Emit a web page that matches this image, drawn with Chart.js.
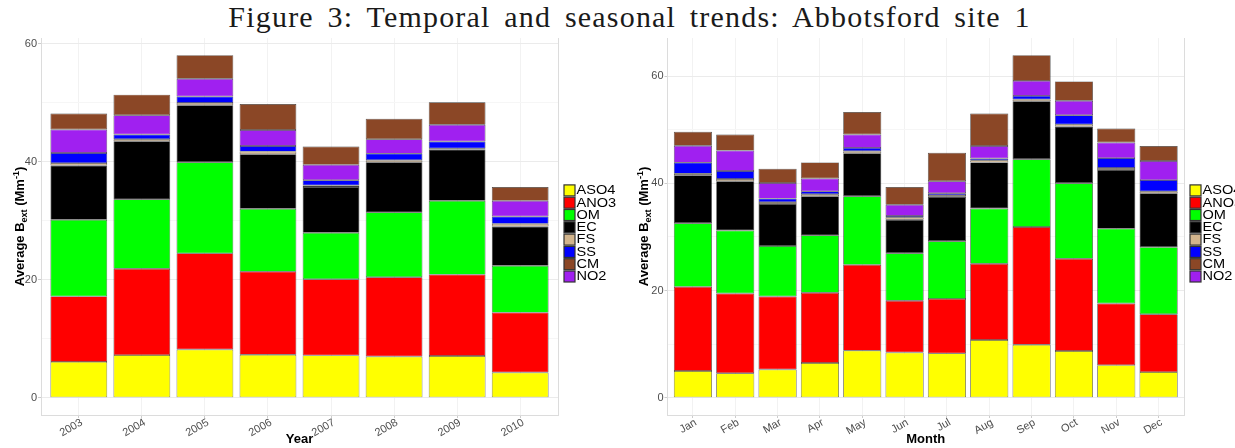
<!DOCTYPE html>
<html lang="en">
<head>
<meta charset="UTF-8">
<title>Figure 3: Temporal and seasonal trends</title>
<script src="https://cdn.jsdelivr.net/npm/chart.js"></script>
<style>
  html, body { margin: 0; padding: 0; background: #fff; }
  body { width: 1235px; height: 448px; position: relative; overflow: hidden; }
  #title { position: absolute; left: 12px; top: 0px; width: 1235px; text-align: center;
           font-family: "Liberation Serif", serif; font-size: 30px; color: #1a1a1a;
           letter-spacing: 1.2px; word-spacing: 5px; }
  .panel { position: absolute; top: 0; height: 448px; }
</style>
</head>
<body>
<div id="title">Figure 3: Temporal and seasonal trends: Abbotsford site 1</div>
<div class="panel" style="left:0;width:618px"><canvas id="yearChart" width="618" height="448"></canvas></div>
<div class="panel" style="left:618px;width:617px"><canvas id="monthChart" width="617" height="448"></canvas></div>

<script>
// stacking order, bottom to top
const components = ['ASO4', 'ANO3', 'OM', 'EC', 'FS', 'SS', 'NO2', 'CM'];
// order shown in the legend
const legendOrder = ['ASO4', 'ANO3', 'OM', 'EC', 'FS', 'SS', 'CM', 'NO2'];
const colours = {
    ASO4: '#ffff00', ANO3: '#ff0000', OM: '#00ff00', EC: '#000000',
    FS: '#d2b48c', SS: '#0000ff', CM: '#8b4726', NO2: '#a020f0'
};

const years = ['2003', '2004', '2005', '2006', '2007', '2008', '2009', '2010'];
const yearASO4 = [6.1, 7.25, 8.2, 7.3, 7.2, 7.0, 7.1, 4.3];
const yearANO3 = [11.1, 14.65, 16.3, 14.1, 12.9, 13.45, 13.8, 10.15];
const yearOM   = [13.0, 11.75, 15.45, 10.65, 7.9, 11.0, 12.5, 7.95];
const yearEC   = [9.2, 9.85, 9.65, 9.25, 7.75, 8.5, 8.7, 6.65];
const yearFS   = [0.4, 0.35, 0.4, 0.45, 0.25, 0.35, 0.2, 0.45];
const yearSS   = [1.7, 0.8, 1.1, 0.95, 0.9, 1.1, 1.15, 1.25];
const yearNO2  = [4.0, 3.25, 3.0, 2.7, 2.6, 2.45, 2.85, 2.65];
const yearCM   = [2.7, 3.5, 4.0, 4.4, 3.1, 3.45, 3.8, 2.35];

const months = ['Jan', 'Feb', 'Mar', 'Apr', 'May', 'Jun', 'Jul', 'Aug', 'Sep', 'Oct', 'Nov', 'Dec'];
const monthASO4 = [5.0, 4.6, 5.3, 6.5, 8.8, 8.45, 8.3, 10.8, 9.9, 8.75, 6.1, 4.8];
const monthANO3 = [15.7, 14.85, 13.6, 13.1, 16.0, 9.65, 10.15, 14.2, 21.95, 17.2, 11.5, 10.8];
const monthOM   = [11.85, 11.75, 9.4, 10.7, 12.8, 8.85, 10.75, 10.3, 12.65, 14.05, 13.95, 12.5];
const monthEC   = [8.95, 9.2, 7.85, 7.3, 8.0, 6.25, 8.3, 8.6, 10.8, 10.6, 10.95, 10.05];
const monthFS   = [0.3, 0.4, 0.35, 0.35, 0.4, 0.4, 0.3, 0.4, 0.35, 0.4, 0.35, 0.35];
const monthSS   = [2.05, 1.5, 0.65, 0.55, 0.6, 0.3, 0.35, 0.35, 0.65, 1.7, 1.85, 2.1];
const monthNO2  = [3.15, 3.8, 2.9, 2.4, 2.5, 2.1, 2.25, 2.3, 2.8, 2.7, 2.9, 3.55];
const monthCM   = [2.6, 3.0, 2.65, 3.0, 4.2, 3.3, 5.3, 6.05, 4.8, 3.6, 2.6, 2.8];

const yTicks = [0, 10, 20, 30, 40, 50, 60];
const sans = 'Liberation Sans, Arial, sans-serif';

function drawYTitle(ctx, cx, cy) {
    const big = 'bold 13px ' + sans, small = 'bold 9px ' + sans;
    const parts = [
        ['Average B', big, 0], ['ext', small, 3], [' (Mm', big, 0], ['-1', small, -5], [')', big, 0]
    ];
    let total = 0;
    parts.forEach(p => { ctx.font = p[1]; total += ctx.measureText(p[0]).width; });
    ctx.save();
    ctx.translate(cx, cy);
    ctx.rotate(-Math.PI / 2);
    ctx.fillStyle = '#000';
    ctx.textBaseline = 'alphabetic';
    let x = -total / 2;
    parts.forEach(p => {
        ctx.font = p[1];
        ctx.fillText(p[0], x, 4.5 + p[2]);
        x += ctx.measureText(p[0]).width;
    });
    ctx.restore();
}

const decor = {
    id: 'decor',
    beforeDatasetsDraw(chart) {
        const a = chart.chartArea, ctx = chart.ctx;
        ctx.save();
        ctx.strokeStyle = '#dcdcdc';
        ctx.lineWidth = 1;
        ctx.beginPath();
        ctx.moveTo(a.right + 0.5, a.top);
        ctx.lineTo(a.right + 0.5, a.bottom);
        ctx.stroke();
        ctx.restore();
    },
    afterDraw(chart) {
        const a = chart.chartArea, ctx = chart.ctx;
        drawYTitle(ctx, chart.options.yTitleX, (a.top + a.bottom) / 2);
        // legend
        const step = 12.3;
        const x0 = a.right + 6;
        let y = (a.top + a.bottom) / 2 + 7 - step * legendOrder.length / 2;
        ctx.save();
        legendOrder.forEach(name => {
            ctx.fillStyle = colours[name];
            ctx.fillRect(x0, y + 0.6, 11, 11);
            ctx.strokeStyle = '#333';
            ctx.lineWidth = 1.2;
            ctx.strokeRect(x0, y + 0.6, 11, 11);
            ctx.save();
            ctx.translate(x0 + 12.5, y + 6.4);
            ctx.scale(1.12, 1);
            ctx.font = '13px ' + sans;
            ctx.fillStyle = '#000';
            ctx.textBaseline = 'middle';
            ctx.fillText(name, 0, 0);
            ctx.restore();
            y += step;
        });
        ctx.restore();
    }
};

function makeChart(id, labels, series, xTitle, axisWidth, padRight, yTitleX) {
    const totals = labels.map((_, i) => series.reduce((s, arr) => s + arr[i], 0));
    const top = Math.max(...totals);
    const expand = top * 0.05;
    return new Chart(document.getElementById(id), {
        type: 'bar',
        data: {
            datasets: components.map((name, k) => ({
                label: name,
                data: series[k].map((v, i) => ({ x: i, y: v })),
                backgroundColor: colours[name],
                borderColor: 'rgba(40,40,40,0.9)',
                borderWidth: 0.7,
                borderSkipped: false,
                barPercentage: 0.9,
                categoryPercentage: 1
            }))
        },
        options: {
            responsive: false,
            animation: false,
            devicePixelRatio: 1,
            yTitleX: yTitleX,
            layout: { padding: { top: 38, right: padRight, left: 0, bottom: 0 } },
            plugins: { legend: { display: false }, tooltip: { enabled: false } },
            scales: {
                x: {
                    type: 'linear', stacked: true, offset: false,
                    min: -0.6, max: labels.length - 1 + 0.6,
                    afterBuildTicks: s => { s.ticks = labels.map((_, i) => ({ value: i })); },
                    afterFit: s => { s.height = 33; },
                    grid: { offset: false, color: '#f2f2f2', tickColor: '#cccccc', tickLength: 3 },
                    border: { color: '#dcdcdc' },
                    ticks: {
                        callback: v => labels[v], autoSkip: false,
                        minRotation: 30, maxRotation: 30, padding: -2, labelOffset: 3,
                        font: { family: sans, size: 11 }, color: '#4d4d4d'
                    },
                    title: {
                        display: true, text: xTitle, color: '#000',
                        font: { family: sans, size: 13, weight: 'bold' },
                        padding: { top: 0, bottom: 1 }
                    }
                },
                y: {
                    stacked: true, min: -expand, max: top + expand,
                    afterBuildTicks: s => { s.ticks = yTicks.filter(v => v <= top + expand).map(v => ({ value: v })); },
                    afterFit: s => { s.width = axisWidth; },
                    grid: {
                        color: c => c.tick.value % 20 === 0 ? '#ebebeb' : '#f6f6f6',
                        tickColor: c => c.tick.value % 20 === 0 ? '#cccccc' : 'rgba(0,0,0,0)',
                        tickLength: 3
                    },
                    border: { color: '#dcdcdc' },
                    ticks: {
                        callback: v => v % 20 === 0 ? String(v) : '',
                        padding: 1,
                        font: { family: sans, size: 11 }, color: '#4d4d4d'
                    }
                }
            }
        },
        plugins: [decor]
    });
}

makeChart('yearChart', years,
    [yearASO4, yearANO3, yearOM, yearEC, yearFS, yearSS, yearNO2, yearCM],
    'Year', 41, 60, 19);
makeChart('monthChart', months,
    [monthASO4, monthANO3, monthOM, monthEC, monthFS, monthSS, monthNO2, monthCM],
    'Month', 49.5, 51, 25);
</script>
</body>
</html>
